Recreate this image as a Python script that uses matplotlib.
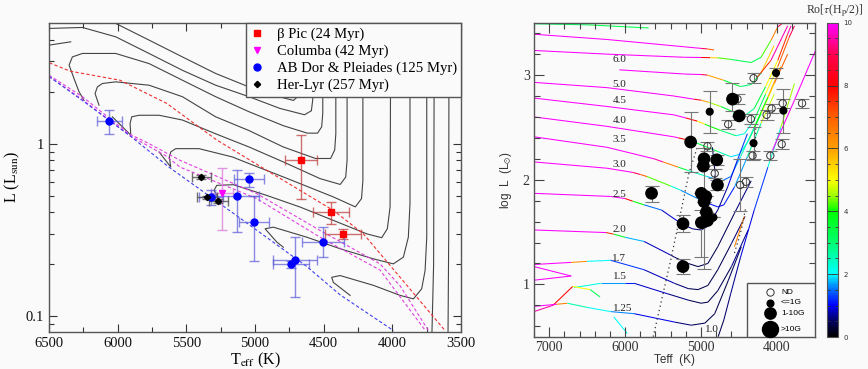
import numpy as np
import matplotlib
matplotlib.use("Agg")
import matplotlib.pyplot as plt
from matplotlib.collections import LineCollection
from matplotlib.colors import LinearSegmentedColormap, Normalize
from matplotlib.patches import Rectangle
from matplotlib.ticker import MultipleLocator, FixedLocator, NullFormatter, FixedFormatter

plt.rcParams['mathtext.fontset'] = 'stix'
BG = '#fafafa'
SERIF = 'Liberation Serif'
SANS = 'Liberation Sans'

# ---------------- left panel: moving-group members ----------------
bpic_teff = [4667, 4447, 4359]
bpic_lum = [0.80, 0.40, 0.30]
bpic_terr = [118, 130, 129]
bpic_lum_lo = [0.48, 0.343, 0.281]
bpic_lum_hi = [1.12, 0.458, 0.318]

col_teff = [5243]
col_lum = [0.52]
col_terr = [80]
col_lum_lo = [0.314]
col_lum_hi = [0.726]

abd_teff = [6063, 5320, 5129, 5044, 5009, 4507, 4706, 4738]
abd_lum = [1.35, 0.49, 0.50, 0.62, 0.351, 0.27, 0.212, 0.20]
abd_terr = [91, 90, 161, 106, 109, 152, 160, 130]
abd_lum_lo = [1.14, 0.44, 0.307, 0.56, 0.21, 0.22, 0.13, 0.19]
abd_lum_hi = [1.56, 0.54, 0.70, 0.676, 0.50, 0.328, 0.287, 0.21]

hl_teff = [5393, 5352, 5267]
hl_lum = [0.64, 0.49, 0.463]
hl_terr = [69, 73, 70]
hl_lum_lo = [0.625, 0.48, 0.45]
hl_lum_hi = [0.655, 0.50, 0.475]

# isochrones (dashed)
iso24_teff = [6498, 6347, 5983, 5643, 5279, 4915, 4430, 4211, 3944, 3617]
iso24_lum = [2.94, 2.63, 2.33, 1.71, 1.05, 0.70, 0.41, 0.30, 0.168, 0.0826]
iso42a_teff = [6500, 6257, 5918, 5772, 5546, 4988, 4527, 4090, 3944, 3738]
iso42a_lum = [2.49, 1.87, 1.14, 1.0, 0.80, 0.513, 0.314, 0.201, 0.15, 0.0826]
iso42b_teff = [6500, 6257, 5918, 5650, 5546, 4988, 4527, 4090, 3760]
iso42b_lum = [2.45, 1.80, 1.12, 0.85, 0.731, 0.48, 0.287, 0.185, 0.0826]
iso125_teff = [6500, 6258, 5917, 5626, 5109, 4623, 4381, 3993]
iso125_lum = [2.45, 1.78, 1.12, 0.73, 0.37, 0.194, 0.133, 0.0826]

# pre-main-sequence mass tracks (solid)
tr_c_t = [6063, 5990, 5772, 5529, 5287, 5044, 4860, 4720, 4665, 4650, 4650]
tr_c_l = [5.2, 4.86, 3.98, 3.18, 2.55, 2.13, 1.90, 1.78, 1.95, 2.3, 5.2]
tr_a_t = [6500, 6257, 6015, 5772, 5529, 5287, 5044, 4820, 4640, 4590, 4580, 4580]
tr_a_l = [4.65, 4.71, 4.16, 3.33, 2.66, 2.18, 1.87, 1.60, 1.47, 1.55, 1.8, 5.2]
tr_b_t = [6500, 6342]
tr_b_l = [3.72, 3.89]
tr_d_t = [6245, 6282, 6318, 6354, 6330, 6257, 6015, 5772, 5529, 5287, 5044, 4794,
          4620, 4545, 4515, 4507, 4507]
tr_d_l = [1.78, 2.0, 2.38, 2.85, 3.18, 3.33, 3.33, 2.91, 2.33, 1.87, 1.53, 1.27,
          1.15, 1.15, 1.25, 1.5, 5.2]
tr_e_t = [6136, 6165, 6148, 6112, 6015, 5772, 5529, 5287, 5044, 4794, 4560, 4450,
          4420, 4412, 4412]
tr_e_l = [1.67, 1.95, 2.13, 2.23, 2.28, 2.18, 1.87, 1.43, 1.19, 0.956, 0.82, 0.82,
          0.92, 1.14, 5.2]
tr_f_t = [6039, 5905, 5910, 5898, 5845, 5699, 5529, 5287, 5044, 4794, 4527, 4380,
          4340, 4330, 4330]
tr_f_l = [1.43, 1.12, 1.31, 1.43, 1.46, 1.46, 1.37, 1.14, 0.956, 0.783, 0.627, 0.58,
          0.64, 0.80, 5.2]
tr_g_t = [5699, 5614, 5624, 5614, 5578, 5408, 5165, 5044, 4794, 4430, 4270, 4225,
          4215, 4215]
tr_g_l = [0.895, 0.732, 0.837, 0.895, 0.935, 0.935, 0.837, 0.766, 0.641, 0.491, 0.43,
          0.48, 0.61, 5.2]
tr_h_t = [5255, 5299, 5279, 5158, 4915, 4672, 4430, 4187, 4078, 4037, 4017, 4012]
tr_h_l = [0.469, 0.536, 0.573, 0.578, 0.501, 0.429, 0.359, 0.30, 0.285, 0.321, 0.429, 5.2]
tr_i_t = [4794, 4842, 4927, 4867, 4624, 4381, 4139, 3993, 3920, 3884, 3872, 3872]
tr_i_l = [0.251, 0.269, 0.321, 0.328, 0.287, 0.246, 0.215, 0.201, 0.22, 0.287, 0.449, 5.2]
tr_j_t = [4308, 4430, 4442, 4381, 4139, 3944, 3847, 3787, 3762, 3750, 3750]
tr_j_l = [0.132, 0.157, 0.168, 0.172, 0.151, 0.132, 0.126, 0.144, 0.184, 0.287, 5.2]
tr_k_t = [3712, 3700, 3695]
tr_k_l = [0.081, 0.2, 5.2]
tr_l_t = [3595, 3590, 3588]
tr_l_l = [0.081, 0.3, 5.2]

# ---------------- right panel: evolutionary tracks (Teff, log L, Ro) ----------------
mtop_teff = [7200, 6500, 5690]
mtop_logl = [3.49, 3.48, 3.45]
mtop_ro = [3.0, 3.2, 3.5]
m70_teff = [7200, 6240, 5220, 5000, 4920, 4830]
m70_logl = [3.39, 3.34, 3.27, 3.255, 3.25, 3.24]
m70_ro = [10, 10, 10, 10, 8, 6]
m60_teff = [7200, 6240, 5220, 5000, 4880, 4780, 4610, 4340, 4210, 4080, 3990, 3920]
m60_logl = [3.235, 3.20, 3.17, 3.168, 3.166, 3.165, 3.15, 3.12, 3.17, 3.33, 3.46, 3.50]
m60_ro = [10, 10, 10, 10, 6, 5, 3.5, 3, 3.5, 5, 8, 10]
m60b_teff = [6075, 5220, 5000, 4920, 4700, 4480, 4340, 4210, 4040]
m60b_logl = [3.05, 3.01, 3.005, 3.00, 2.95, 2.89, 2.91, 3.02, 3.28]
m60b_ro = [10, 10, 10, 8, 4, 3, 3, 4, 7]
m50_teff = [7200, 6240, 5360, 5100, 5000, 4900, 4740, 4520, 4410, 4300, 4150, 3990,
            3860, 3815]
m50_logl = [2.93, 2.88, 2.80, 2.77, 2.76, 2.74, 2.70, 2.63, 2.62, 2.68, 2.89, 3.14,
            3.39, 3.47]
m50_ro = [10, 10, 10, 10, 7, 5, 4, 3, 2.5, 3, 4, 6, 9, 10]
m45_teff = [7200, 6240, 5360, 5200, 5050, 4950, 4740, 4540, 4430, 4300, 4150, 3990,
            3840, 3770]
m45_logl = [2.78, 2.70, 2.62, 2.59, 2.56, 2.53, 2.47, 2.42, 2.44, 2.57, 2.82, 3.08,
            3.36, 3.47]
m45_ro = [10, 10, 10, 10, 6, 4.5, 3.5, 2.5, 2, 2.5, 4, 6, 8, 10]
m40_teff = [7200, 6240, 5360, 5300, 5150, 5090, 4780, 4610, 4500, 4370, 4210, 4035, 3860]
m40_logl = [2.60, 2.51, 2.41, 2.40, 2.375, 2.36, 2.27, 2.22, 2.24, 2.38, 2.63, 2.92, 3.20]
m40_ro = [10, 10, 10, 10, 6, 4, 3, 2, 1.8, 2.5, 4, 6, 8]
m35_teff = [7200, 6240, 5620, 5500, 5300, 5180, 4920, 4720, 4610, 4480, 4300, 4120, 3950]
m35_logl = [2.41, 2.31, 2.20, 2.17, 2.12, 2.09, 2.03, 1.99, 2.03, 2.22, 2.50, 2.79, 3.08]
m35_ro = [10, 10, 10, 9, 4, 3, 2, 1.5, 1.5, 2, 3, 5, 7]
m30_teff = [7200, 6240, 5900, 5800, 5710, 5400, 5270, 4960, 4780, 4700, 4560, 4390,
            4210, 4035]
m30_logl = [2.17, 2.11, 2.07, 2.05, 2.03, 1.94, 1.90, 1.79, 1.74, 1.76, 1.93, 2.22,
            2.54, 2.82]
m30_ro = [10, 10, 10, 8, 6, 2.5, 2, 1.2, 1, 1, 1.3, 2, 3.5, 6]
m25_teff = [7200, 6190, 6000, 5900, 5750, 5520, 5260, 5110, 5000, 4920, 4780, 4650,
            4520, 4390]
m25_logl = [1.87, 1.84, 1.82, 1.795, 1.76, 1.71, 1.58, 1.53, 1.52, 1.55, 1.71, 1.93,
            2.19, 2.44]
m25_ro = [10, 10, 10, 6, 2, 1, 0.7, 0.6, 0.5, 0.5, 0.6, 0.8, 1, 1.5]
m20_teff = [7200, 6250, 6150, 6000, 5750, 5400, 5350, 5170, 5040, 4910, 4780, 4560, 4340]
m20_logl = [1.52, 1.495, 1.48, 1.45, 1.41, 1.28, 1.26, 1.20, 1.17, 1.20, 1.36, 1.68, 1.99]
m20_ro = [10, 10, 5, 2.5, 1, 0.6, 0.5, 0.4, 0.4, 0.4, 0.4, 0.5, 0.7]
m17_teff = [7200, 6710, 6500, 6190, 5750, 5350, 5170, 5040, 4910, 4780, 4600, 4420]
m17_logl = [1.19, 1.21, 1.22, 1.23, 1.14, 1.01, 0.96, 0.95, 0.99, 1.14, 1.39, 1.65]
m17_ro = [10, 10, 2.5, 1.5, 1, 0.6, 0.5, 0.4, 0.4, 0.4, 0.5, 0.7]
m17w_teff = [7200, 6710, 7200]
m17w_logl = [1.17, 1.08, 1.04]
m17w_ro = [10, 10, 10]
m15_teff = [6670, 6320, 6000, 5880, 5440, 5170, 5000, 4910, 4780, 4600, 4380]
m15_logl = [0.97, 1.01, 1.01, 1.01, 0.91, 0.85, 0.82, 0.83, 0.94, 1.17, 1.52]
m15_ro = [2.5, 2, 1.3, 1, 0.7, 0.5, 0.4, 0.4, 0.4, 0.5, 0.8]
m15w_teff = [7200, 6950, 6690, 6460, 6330]
m15w_logl = [0.74, 0.80, 0.98, 0.95, 0.88]
m15w_ro = [10, 9, 7, 3, 3.5]
m125_teff = [7200, 6900, 6760, 6500, 6190, 5880, 5350, 5130, 4950, 4820, 4640, 4470]
m125_logl = [0.79, 0.81, 0.82, 0.78, 0.74, 0.72, 0.64, 0.61, 0.63, 0.72, 1.04, 1.36]
m125_ro = [10, 10, 3, 2.2, 2, 1.2, 0.7, 0.5, 0.4, 0.4, 0.4, 0.6]
m125w_teff = [6150, 5970]
m125w_logl = [0.69, 0.53]
m125w_ro = [2, 2]
m10_teff = [4775, 4700, 4610, 4480, 4300, 4120, 3950, 3770]
m10_logl = [0.50, 0.66, 0.91, 1.26, 1.71, 2.12, 2.50, 2.92]
m10_ro = [0.4, 0.5, 0.6, 0.8, 1.0, 1.5, 3, 6]
rgb1_teff = [4060, 3770, 3490]
rgb1_logl = [2.28, 2.76, 3.24]
rgb1_ro = [10, 10, 10]
rgb2_teff = [4260, 4080, 3860]
rgb2_logl = [2.98, 3.14, 3.47]
rgb2_ro = [6, 9, 10]
rgb3_teff = [4560, 4430]
rgb3_logl = [1.36, 1.65]
rgb3_ro = [8, 5]
loop_teff = [4850, 4830, 4810, 4840]
loop_logl = [2.31, 2.15, 2.06, 1.96]
loop_ro = [0.5, 0.5, 0.5, 0.5]

dot1_teff = [5630, 5400, 5270, 5160, 5050]
dot1_logl = [0.50, 1.23, 1.68, 2.06, 2.31]
dot2_teff = [4560, 4470, 4410]
dot2_logl = [1.30, 1.52, 1.74]
dot3_teff = [4280, 4290]
dot3_logl = [2.49, 2.22]

mass_labels = ['6.0', '5.0', '4.5', '4.0', '3.5', '3.0', '2.5', '2.0', '1.7', '1.5', '1.25', '1.0']
mass_label_teff = [6075, 6075, 6075, 6075, 6075, 6075, 6075, 6075, 6075, 6075, 6035, 4863]
mass_label_logl = [3.15, 2.91, 2.76, 2.57, 2.38, 2.15, 1.86, 1.52, 1.25, 1.08, 0.765, 0.57]

# stars: detected field (filled, size class) and non-detections (open)
det_teff = [4586, 4498, 5137, 4960, 4793, 4969, 4784, 5652, 4996, 4938, 4960, 4930,
            4916, 4996, 5238, 4837, 5238, 4886, 4013, 3916, 4309]
det_logl = [2.77, 2.61, 2.36, 2.20, 2.19, 2.13, 1.95, 1.87, 1.87, 1.84, 1.79, 1.69,
            1.61, 1.59, 1.58, 1.64, 1.17, 2.65, 3.02, 2.66, 2.35]
det_err_lo = [0.11, 0.0, 0.29, 1.05, 0.05, 0.0, 0.05, 0.08, 0.0, 0.0, 0.0, 0.0,
              0.0, 0.33, 0.08, 0.0, 0.07, 0.2, 0.05, 0.21, 0.15]
det_err_hi = [0.15, 0.0, 0.29, 0.10, 0.05, 0.0, 0.05, 0.07, 0.0, 0.0, 0.0, 0.0,
              0.0, 0.12, 0.08, 0.0, 0.07, 0.2, 0.05, 0.21, 0.15]
det_class = ['m', 'm', 'm', 'm', 'm', 'm', 'm', 'm', 'm', 'm', 'm', 'm',
             'm', 'm', 'm', 's', 'm', 's', 's', 's', 's']
nd_teff = [4309, 4520, 4643, 4344, 4916, 4137, 4071, 3925, 3670, 3938, 4088, 4322,
           4820, 4485, 4410]
nd_logl = [2.97, 2.77, 2.53, 2.58, 2.32, 2.62, 2.68, 2.73, 2.73, 2.34, 2.23, 2.23,
           2.06, 1.95, 1.98]
nd_err = [0.045, 0.045, 0.045, 0.045, 0.045, 0.045, 0.045, 0.045, 0.045, 0.045,
          0.045, 0.045, 0.045, 0.245, 0.045]

size_px = {'s': 6.7, 'm': 11.3, 'l': 16}

ro_cmap = LinearSegmentedColormap.from_list('ro', [
    (0.0, '#000000'), (0.05, '#000060'), (0.1, '#0000ff'), (0.15, '#0070ff'),
    (0.2, '#00ffff'), (0.3, '#00ff70'), (0.4, '#00ff00'), (0.45, '#a0ff00'),
    (0.5, '#ffff00'), (0.6, '#ffa000'), (0.7, '#ff6000'), (0.8, '#ff0000'),
    (0.9, '#ff0050'), (1.0, '#ff00ff')])
ro_norm = Normalize(0, 10)

fig = plt.figure(figsize=(8.68, 3.69), dpi=100, facecolor=BG)

# ======================= left panel =======================
ax1 = fig.add_axes([0.0565, 0.1003, 0.4747, 0.8374], facecolor=BG)
tracks = [(tr_c_t, tr_c_l), (tr_a_t, tr_a_l), (tr_b_t, tr_b_l), (tr_d_t, tr_d_l),
          (tr_e_t, tr_e_l), (tr_f_t, tr_f_l), (tr_g_t, tr_g_l), (tr_h_t, tr_h_l),
          (tr_i_t, tr_i_l), (tr_j_t, tr_j_l), (tr_k_t, tr_k_l), (tr_l_t, tr_l_l)]
for t, l in tracks:
    ax1.plot(t, l, color='#444444', lw=0.8, zorder=1)

ax1.plot(iso24_teff, iso24_lum, color='#ee3030', lw=0.8, ls=(0, (3, 2)), zorder=2)
ax1.plot(iso42a_teff, iso42a_lum, color='#e040e0', lw=0.8, ls=(0, (3, 2)), zorder=2)
ax1.plot(iso42b_teff, iso42b_lum, color='#e040e0', lw=0.8, ls=(0, (3, 2)), zorder=2)
ax1.plot(iso125_teff, iso125_lum, color='#4040ee', lw=0.8, ls=(0, (3, 2)), zorder=2)


def group(ax, teff, lum, terr, lo, hi, color, ecolor, marker, ms, label):
    lum = np.array(lum)
    yerr = [lum - np.array(lo), np.array(hi) - lum]
    ax.errorbar(teff, lum, xerr=terr, yerr=yerr, fmt='none', ecolor=ecolor,
                elinewidth=1.0, capsize=3.5, capthick=1.0, zorder=3)
    ax.plot(teff, lum, ls='none', marker=marker, ms=ms, color=color,
            mec=color, zorder=4, label=label)


group(ax1, bpic_teff, bpic_lum, bpic_terr, bpic_lum_lo, bpic_lum_hi,
      '#ff0000', (0.75, 0.25, 0.25, 0.75), 's', 4.5, 'β Pic (24 Myr)')
group(ax1, col_teff, col_lum, col_terr, col_lum_lo, col_lum_hi,
      '#ff00ff', (0.85, 0.5, 0.85, 0.8), 'v', 4.5, 'Columba (42 Myr)')
group(ax1, abd_teff, abd_lum, abd_terr, abd_lum_lo, abd_lum_hi,
      '#0000ff', (0.35, 0.35, 0.85, 0.7), 'o', 5, 'AB Dor & Pleiades (125 Myr)')
group(ax1, hl_teff, hl_lum, hl_terr, hl_lum_lo, hl_lum_hi,
      '#000000', (0.3, 0.3, 0.3, 0.8), 'D', 3.2, 'Her-Lyr (257 Myr)')

ax1.set_xlim(6500, 3500)
ax1.set_yscale('log')
ax1.set_ylim(0.081, 5.0)
ax1.xaxis.set_major_locator(MultipleLocator(500))
ax1.xaxis.set_minor_locator(MultipleLocator(250))
ax1.yaxis.set_major_locator(FixedLocator([0.1, 1]))
ax1.yaxis.set_major_formatter(FixedFormatter(['0.1', '1']))
ax1.yaxis.set_minor_locator(FixedLocator([0.09, 0.2, 0.3, 0.4, 0.5, 0.6, 0.7, 0.8, 0.9,
                                          2, 3, 4]))
ax1.yaxis.set_minor_formatter(NullFormatter())
ax1.tick_params(which='both', direction='in', top=True, right=True, colors='#333333',
                labelsize=10.5)
ax1.tick_params(which='major', length=6, width=0.8)
ax1.tick_params(which='minor', length=3.5, width=0.8)
for lab in ax1.get_xticklabels() + ax1.get_yticklabels():
    lab.set_fontfamily(SERIF)
    lab.set_color('#111111')
for s in ax1.spines.values():
    s.set_color('#555555')
    s.set_linewidth(1.0)
ax1.set_xlabel(r'T$_{\rm eff}$ (K)', fontfamily=SERIF, fontsize=11.5, labelpad=1)
ax1.set_ylabel(r'L (L$_{\rm sun}$)', fontfamily=SERIF, fontsize=11.5, labelpad=3)
leg = ax1.legend(loc='upper right', borderaxespad=0, fancybox=False, framealpha=1,
                 facecolor=BG, edgecolor='#555555', prop={'family': SERIF, 'size': 10.6},
                 handlelength=1.0, handletextpad=0.8, borderpad=0.3, labelspacing=0.25)
leg.get_frame().set_linewidth(1.0)
leg.set_zorder(10)

# ======================= right panel =======================
ax2 = fig.add_axes([0.6152, 0.0875, 0.3237, 0.8509], facecolor=BG)
rtracks = [(mtop_teff, mtop_logl, mtop_ro), (m70_teff, m70_logl, m70_ro),
           (m60_teff, m60_logl, m60_ro), (m60b_teff, m60b_logl, m60b_ro),
           (m50_teff, m50_logl, m50_ro), (m45_teff, m45_logl, m45_ro),
           (m40_teff, m40_logl, m40_ro), (m35_teff, m35_logl, m35_ro),
           (m30_teff, m30_logl, m30_ro), (m25_teff, m25_logl, m25_ro),
           (m20_teff, m20_logl, m20_ro), (m17_teff, m17_logl, m17_ro),
           (m17w_teff, m17w_logl, m17w_ro), (m15_teff, m15_logl, m15_ro),
           (m15w_teff, m15w_logl, m15w_ro), (m125_teff, m125_logl, m125_ro),
           (m125w_teff, m125w_logl, m125w_ro), (m10_teff, m10_logl, m10_ro),
           (rgb1_teff, rgb1_logl, rgb1_ro), (rgb2_teff, rgb2_logl, rgb2_ro),
           (rgb3_teff, rgb3_logl, rgb3_ro), (loop_teff, loop_logl, loop_ro)]
for t, l, r in rtracks:
    pts = np.column_stack([t, l])
    segs = np.stack([pts[:-1], pts[1:]], axis=1)
    r = np.asarray(r, dtype=float)
    lc = LineCollection(segs, cmap=ro_cmap, norm=ro_norm, linewidths=0.75, zorder=1)
    lc.set_array(0.5 * (r[:-1] + r[1:]))
    ax2.add_collection(lc)

for t, l in [(dot1_teff, dot1_logl), (dot2_teff, dot2_logl), (dot3_teff, dot3_logl)]:
    ax2.plot(t, l, color='#333333', lw=0.9, ls=(0, (1, 2.5)), zorder=2)

for lab, t, l in zip(mass_labels, mass_label_teff, mass_label_logl):
    ax2.text(t, l, lab, fontfamily=SERIF, fontsize=8, color='#222222',
             ha='center', va='center', zorder=3)

ax2.errorbar(det_teff, det_logl, yerr=[det_err_lo, det_err_hi], fmt='none',
             ecolor='#777777', elinewidth=0.8, capsize=5, capthick=0.8, zorder=4)
ax2.errorbar(nd_teff, nd_logl, yerr=nd_err, fmt='none', ecolor='#777777',
             elinewidth=0.8, capsize=5, capthick=0.8, zorder=4)
ax2.scatter(nd_teff, nd_logl, s=(7.3 * 0.72) ** 2, facecolors='none', edgecolors='#333333',
            linewidths=0.7, zorder=5)
ax2.scatter(det_teff, det_logl, s=[(size_px[c] * 0.72) ** 2 for c in det_class],
            color='black', zorder=6)

ax2.set_xlim(7200, 3500)
ax2.set_ylim(0.5, 3.5)
ax2.xaxis.set_major_locator(MultipleLocator(1000))
ax2.xaxis.set_minor_locator(MultipleLocator(200))
ax2.yaxis.set_major_locator(MultipleLocator(1))
ax2.yaxis.set_minor_locator(MultipleLocator(0.2))
ax2.tick_params(which='both', direction='in', top=True, right=True, colors='#444444',
                labelsize=10, pad=3)
ax2.tick_params(which='major', length=7, width=0.8)
ax2.tick_params(which='minor', length=4, width=0.8)
for lab in ax2.get_xticklabels() + ax2.get_yticklabels():
    lab.set_fontfamily(SERIF)
    lab.set_color('#333333')
for s in ax2.spines.values():
    s.set_color('#555555')
    s.set_linewidth(1.0)
ax2.set_xlabel('Teff  (K)', fontfamily=SANS, fontsize=8.5, color='#333333', labelpad=0)
ax2.set_ylabel(r'log  L  (L$_{\odot}$)', fontfamily=SANS, fontsize=8.5, color='#333333',
               labelpad=6)

# legend box for field strength classes
ax2.add_patch(Rectangle((0.759, 0.0), 0.241, 0.17, transform=ax2.transAxes,
                        facecolor=BG, edgecolor='#555555', lw=1.0, zorder=7))
leg_y = [0.142, 0.108, 0.074, 0.0236]
leg_lab = ['ND', '<=1G', '1-10G', '>10G']
leg_px = [7.3, 6.7, 11.3, 16]
for i, (y, lab, d) in enumerate(zip(leg_y, leg_lab, leg_px)):
    if i == 0:
        ax2.scatter([0.84], [y], s=(d * 0.72) ** 2, facecolors=BG, edgecolors='#333333',
                    linewidths=0.7, transform=ax2.transAxes, zorder=8, clip_on=False)
    else:
        ax2.scatter([0.84], [y], s=(d * 0.72) ** 2, color='black',
                    transform=ax2.transAxes, zorder=8, clip_on=False)
    ax2.text(0.879, y, lab, transform=ax2.transAxes, fontfamily=SANS, fontsize=6,
             va='center', ha='left', zorder=9)

# colour bar
cax = fig.add_axes([0.9524, 0.0867, 0.0127, 0.8518])
sm = plt.cm.ScalarMappable(norm=ro_norm, cmap=ro_cmap)
cb = fig.colorbar(sm, cax=cax)
cb.set_ticks([0, 2, 4, 6, 8, 10])
cb.ax.yaxis.set_minor_locator(MultipleLocator(0.5))
cb.ax.tick_params(which='both', direction='in', left=True, right=True, labelsize=5,
                  colors='#333333', width=0.6)
cb.ax.tick_params(which='major', length=4, pad=4)
cb.ax.tick_params(which='minor', length=2.5)
cb.outline.set_edgecolor('#555555')
cb.outline.set_linewidth(0.8)
fig.text(0.962, 0.972, r'Ro[$\tau$(H$_{\rm p}$/2)]', fontfamily=SERIF, fontsize=8.5,
         ha='center', va='center', color='#333333')

fig.savefig('out.png', dpi=100, facecolor=BG)
